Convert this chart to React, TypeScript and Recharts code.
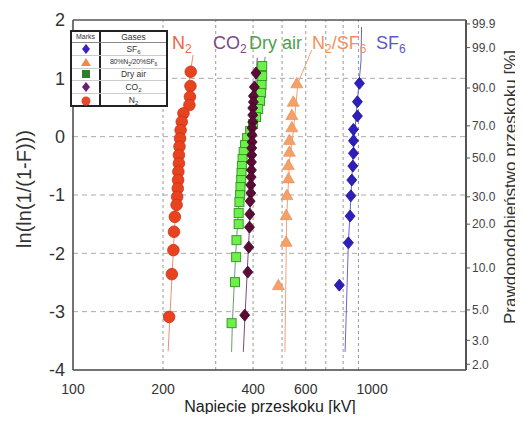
import React from 'react';
import { ScatterChart, Scatter, XAxis, YAxis, ReferenceLine } from 'recharts';

// breakdown voltage [kV] and ln(ln(1/(1-F))) for each gas
const n2Volt = [247.5, 247, 246, 245, 234, 231, 229, 228, 227, 226, 226, 225, 224.6, 224, 223, 222, 219, 217.6, 216.6, 214, 209.6];
const n2Y = [1.113, 0.868, 0.684, 0.542, 0.4, 0.256, 0.113, -0.03, -0.17, -0.316, -0.458, -0.6, -0.745, -0.887, -1.03, -1.17, -1.374, -1.63, -1.945, -2.357, -3.09];

const co2Volt = [409, 404, 401, 401, 399, 399, 399, 397, 397, 397, 396, 396, 395, 395, 394, 393, 393, 391, 390, 389, 387, 384, 375];
const co2Y = [1.091, 0.851, 0.696, 0.593, 0.491, 0.37, 0.25, 0.148, 0.027, -0.093, -0.196, -0.316, -0.436, -0.573, -0.693, -0.83, -0.967, -1.105, -1.328, -1.551, -1.894, -2.322, -3.06];

const airVolt = [429, 429, 427, 425, 422, 416, 409, 400, 391, 382, 376, 372, 369, 367, 366, 365, 363, 362, 360, 358, 358, 352, 351, 348, 339];
const airY = [1.211, 1.039, 0.885, 0.748, 0.611, 0.474, 0.336, 0.216, 0.096, -0.024, -0.144, -0.264, -0.384, -0.504, -0.624, -0.744, -0.864, -1.002, -1.122, -1.31, -1.499, -1.774, -2.065, -2.494, -3.197];

const mixVolt = [560, 545, 539, 539, 529, 529, 525, 525, 519, 516, 516, 486];
const mixY = [0.914, 0.599, 0.371, 0.16, -0.058, -0.259, -0.487, -0.715, -1.002, -1.345, -1.803, -2.545];

const sf6Volt = [907, 893, 893, 866, 866, 866, 862, 855, 849, 844, 833, 777];
const sf6Y = [0.914, 0.599, 0.353, 0.125, -0.07, -0.286, -0.504, -0.744, -1.014, -1.362, -1.82, -2.545];

// fitted curves
const n2FitVolt = [208, 216.5, 226, 236, 252];
const n2FitY = [-3.68, -1.95, -0.3, 0.45, 1.4];
const co2FitVolt = [371, 376, 389, 397, 413];
const co2FitY = [-3.69, -3.06, -1.55, -0.2, 1.35];
const airFitVolt = [339, 341, 350, 358, 366, 380, 400, 420, 432, 439];
const airFitY = [-3.69, -3.2, -2.0, -1.2, -0.6, -0.1, 0.25, 0.65, 1.1, 1.37];
const mixFitVolt = [511, 518, 530, 546, 565, 628];
const mixFitY = [-3.69, -1.37, -0.4, 0.11, 0.92, 1.485];
const sf6FitVolt = [812, 833, 850, 862, 885, 918, 922];
const sf6FitY = [-3.69, -1.82, -1.0, -0.4, 0.4, 1.3, 1.88];

const xTicks = [100, 200, 400, 600, 800, 1000];
const xGrid = [200, 300, 400, 500, 600, 700, 800, 900];
const yTicks = [-4, -3, -2, -1, 0, 1, 2];
const yGrid = [-3, -2, -1, 0, 1];
const probTicks = [99.9, 99, 90, 70, 50, 30, 20, 10, 5, 3, 2];

const weibull = (p: number) => Math.log(-Math.log(1 - p / 100));
const rightTicks = probTicks.map(weibull);
const zip = (xs: number[], ys: number[]) => xs.map((v, i) => ({ v, y: ys[i] }));

const circle = (p: any) => <circle cx={p.cx} cy={p.cy} r={5.8} fill="#e8431e" stroke="#c8321a" strokeWidth={0.8} />;
const diamond = (fill: string, stroke: string) => (p: any) => (
    <polygon points={`${p.cx},${p.cy - 6} ${p.cx + 5},${p.cy} ${p.cx},${p.cy + 6} ${p.cx - 5},${p.cy}`} fill={fill} stroke={stroke} strokeWidth={0.8} />
);
const square = (p: any) => <rect x={p.cx - 4.5} y={p.cy - 4.5} width={9} height={9} fill="#6df04a" stroke="#3a9a2a" strokeWidth={1} />;
const triangle = (p: any) => (
    <polygon points={`${p.cx},${p.cy - 6} ${p.cx + 6},${p.cy + 4.5} ${p.cx - 6},${p.cy + 4.5}`} fill="#f4a066" stroke="#e88a4e" strokeWidth={0.6} />
);
const noDot = () => <g />;

const rightLabel = (v: number) => {
    const i = rightTicks.findIndex(t => Math.abs(t - v) < 1e-6);
    return i >= 0 ? probTicks[i].toFixed(1) : '';
};

const sub = (t: string, size: number, drop: number) => (
    <span style={{ fontSize: size, position: 'relative', top: drop }}>{t}</span>
);
const seriesLabel = (left: number, color: string, children: React.ReactNode) => (
    <div style={{ position: 'absolute', left, top: 33, fontSize: 18, color, whiteSpace: 'nowrap', lineHeight: '20px' }}>{children}</div>
);

const legendMark = (kind: string) => {
    if (kind === 'diamondBlue') return <polygon points="5,0 9,5 5,10 1,5" fill="#3a22c0" />;
    if (kind === 'triangle') return <polygon points="5,1 10,9 0,9" fill="#f08a4c" />;
    if (kind === 'square') return <rect x={1} y={1} width={8} height={8} fill="#2e7d32" />;
    if (kind === 'diamondPurple') return <polygon points="5,0 9,5 5,10 1,5" fill="#6e1f74" />;
    return <circle cx={5} cy={5} r={4.5} fill="#e8472a" />;
};

const legendRows: [string, React.ReactNode][] = [
    ['diamondBlue', <>SF{sub('6', 6, 2)}</>],
    ['triangle', <span style={{ fontSize: 7, letterSpacing: -0.2 }}>80%N{sub('2', 5, 2)}/20%SF{sub('6', 5, 2)}</span>],
    ['square', <>Dry air</>],
    ['diamondPurple', <>CO{sub('2', 6, 2)}</>],
    ['circle', <>N{sub('2', 6, 2)}</>],
];

export default function App() {
    const axisStroke = { stroke: '#444', strokeWidth: 1.5 };
    return (
        <div style={{ position: 'relative', width: 523, height: 422, margin: -8, background: '#fff', fontFamily: '"Liberation Sans", Arial, sans-serif' }}>
            <ScatterChart width={523} height={422} margin={{ top: 20, right: 0, bottom: 0, left: 0 }}>
                <XAxis
                    dataKey="v"
                    type="number"
                    scale="log"
                    domain={[100, 2060]}
                    allowDataOverflow
                    ticks={xTicks}
                    tickLine={false}
                    tickMargin={8}
                    axisLine={axisStroke}
                    tick={{ fontSize: 14, fill: '#333' }}
                    height={52}
                />
                <YAxis
                    yAxisId="left"
                    dataKey="y"
                    type="number"
                    domain={[-4, 2]}
                    allowDataOverflow
                    ticks={yTicks}
                    tickLine={false}
                    axisLine={axisStroke}
                    tick={{ fontSize: 18, fill: '#333' }}
                    width={73}
                />
                <YAxis
                    yAxisId="right"
                    orientation="right"
                    dataKey="y"
                    type="number"
                    domain={[-4, 2]}
                    allowDataOverflow
                    ticks={rightTicks}
                    tickFormatter={rightLabel}
                    tickSize={4}
                    tickLine={{ stroke: '#555' }}
                    axisLine={{ stroke: '#555', strokeWidth: 2 }}
                    tick={{ fontSize: 12, fill: '#444' }}
                    width={57}
                />

                {yGrid.map(g => (
                    <ReferenceLine key={'h' + g} yAxisId="left" y={g} stroke="#aaa" strokeDasharray="5 4" />
                ))}
                {xGrid.map(g => (
                    <ReferenceLine key={'v' + g} yAxisId="left" x={g} stroke="#999" strokeDasharray="3 3" />
                ))}
                <ReferenceLine yAxisId="left" y={2} stroke="#555" strokeWidth={1.5} />

                <Scatter yAxisId="left" data={zip(n2FitVolt, n2FitY)} line={{ stroke: '#f28a7a', strokeWidth: 1 }} shape={noDot} isAnimationActive={false} />
                <Scatter yAxisId="left" data={zip(airFitVolt, airFitY)} line={{ stroke: '#6a9a72', strokeWidth: 1 }} shape={noDot} isAnimationActive={false} />
                <Scatter yAxisId="left" data={zip(co2FitVolt, co2FitY)} line={{ stroke: '#7a4a8a', strokeWidth: 1 }} shape={noDot} isAnimationActive={false} />
                <Scatter yAxisId="left" data={zip(mixFitVolt, mixFitY)} line={{ stroke: '#f2a27a', strokeWidth: 1 }} shape={noDot} isAnimationActive={false} />
                <Scatter yAxisId="right" data={zip(sf6FitVolt, sf6FitY)} line={{ stroke: '#6a62d2', strokeWidth: 1 }} shape={noDot} isAnimationActive={false} />

                <Scatter yAxisId="left" name="N2" data={zip(n2Volt, n2Y)} shape={circle} isAnimationActive={false} />
                <Scatter yAxisId="left" name="Dry air" data={zip(airVolt, airY)} shape={square} isAnimationActive={false} />
                <Scatter yAxisId="left" name="CO2" data={zip(co2Volt, co2Y)} shape={diamond('#5c0b36', '#3e0522')} isAnimationActive={false} />
                <Scatter yAxisId="left" name="80%N2/20%SF6" data={zip(mixVolt, mixY)} shape={triangle} isAnimationActive={false} />
                <Scatter yAxisId="left" name="SF6" data={zip(sf6Volt, sf6Y)} shape={diamond('#2d1fbb', '#1d1290')} isAnimationActive={false} />
            </ScatterChart>

            {seriesLabel(172, '#ee6446', <>N{sub('2', 12, 4)}</>)}
            {seriesLabel(213, '#7b4a82', <>CO{sub('2', 12, 4)}</>)}
            {seriesLabel(249, '#4f9e4c', <>Dry air</>)}
            {seriesLabel(312, '#f2905c', <>N{sub('2', 12, 4)}/SF{sub('6', 12, 4)}</>)}
            {seriesLabel(376, '#5b57d0', <>SF{sub('6', 12, 4)}</>)}

            <div style={{ position: 'absolute', left: 70, top: 30, width: 98, height: 77, border: '2px solid #222', boxSizing: 'border-box', background: '#fff', color: '#333', lineHeight: 1 }}>
                <div style={{ display: 'flex', height: 11, borderBottom: '1px solid #888', boxSizing: 'border-box' }}>
                    <div style={{ width: 27, borderRight: '2px solid #222', fontSize: 7, textAlign: 'center', lineHeight: '10px' }}>Marks</div>
                    <div style={{ flex: 1, fontSize: 8.5, textAlign: 'center', lineHeight: '10px' }}>Gases</div>
                </div>
                {legendRows.map(([kind, text], i) => (
                    <div key={i} style={{ display: 'flex', height: 12.8, borderBottom: i < 4 ? '1px solid #ccc' : 'none', boxSizing: 'border-box' }}>
                        <div style={{ width: 27, borderRight: '2px solid #222', display: 'flex', justifyContent: 'center', alignItems: 'center' }}>
                            <svg width={10} height={10}>{legendMark(kind)}</svg>
                        </div>
                        <div style={{ flex: 1, fontSize: 8.5, display: 'flex', justifyContent: 'center', alignItems: 'center', whiteSpace: 'nowrap' }}>
                            <span>{text}</span>
                        </div>
                    </div>
                ))}
            </div>

            <div style={{ position: 'absolute', left: 24, top: 189, transform: 'translate(-50%, -50%) rotate(-90deg)', fontSize: 20, color: '#333', whiteSpace: 'nowrap', lineHeight: 1 }}>
                ln(ln(1/(1-F)))
            </div>
            <div style={{ position: 'absolute', left: 510, top: 187, transform: 'translate(-50%, -50%) rotate(-90deg)', fontSize: 17, color: '#333', whiteSpace: 'nowrap', lineHeight: 1 }}>
                Prawdopodobieństwo przeskoku [%]
            </div>
            <div style={{ position: 'absolute', left: 270, top: 407, transform: 'translate(-50%, -50%)', fontSize: 16, color: '#222', whiteSpace: 'nowrap', lineHeight: 1 }}>
                Napiecie przeskoku [kV]
            </div>
        </div>
    );
}
